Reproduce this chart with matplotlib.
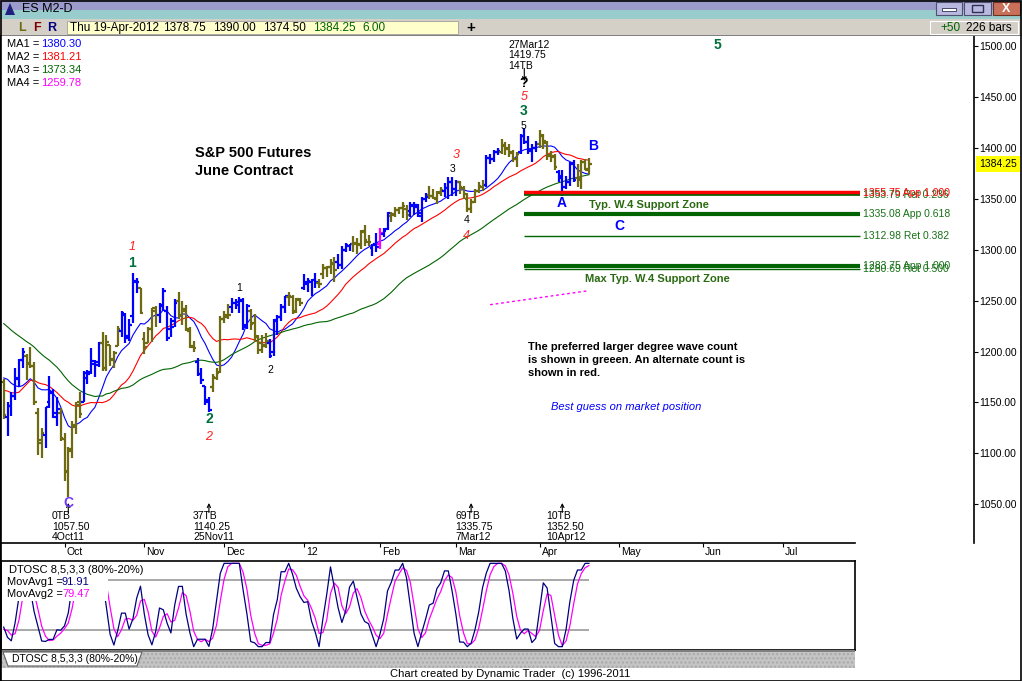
import numpy as np
import pandas as pd
import matplotlib
matplotlib.use('Agg')
import matplotlib.pyplot as plt
from matplotlib.patches import Rectangle, Polygon
from matplotlib.collections import LineCollection
from matplotlib.transforms import blended_transform_factory

plt.rcParams['font.family'] = ['Liberation Sans', 'DejaVu Sans']

W, H = 1022, 681

# ES M2 daily bars, 9 Sep 2011 .. 19 Apr 2012 (bar index 0..154)
opens = [1170, 1136, 1147, 1156, 1174, 1192, 1196, 1189, 1186, 1140,
         1110, 1118, 1150, 1160, 1140, 1140, 1114, 1082, 1102, 1126,
         1150, 1150, 1174, 1180, 1188, 1190, 1208, 1184, 1206, 1192,
         1205, 1220, 1236, 1215, 1235, 1268, 1262, 1212, 1208, 1222,
         1240, 1236, 1246, 1240, 1222, 1230, 1250, 1236, 1240, 1220,
         1205, 1190, 1178, 1166, 1152, 1165, 1174, 1180, 1232, 1236,
         1244, 1248, 1246, 1250, 1226, 1240, 1228, 1214, 1208, 1206,
         1208, 1200, 1230, 1234, 1244, 1254, 1254, 1240, 1251, 1262,
         1266, 1268, 1270, 1267, 1276, 1282, 1283, 1286, 1288, 1285,
         1300, 1304, 1306, 1306, 1305, 1318, 1308, 1302, 1306, 1306,
         1315, 1320, 1333, 1334, 1339, 1341, 1340, 1338, 1343, 1344,
         1333, 1350, 1354, 1353, 1350, 1357, 1358, 1361, 1366, 1360,
         1366, 1361, 1350, 1340, 1347, 1358, 1362, 1364, 1390, 1389,
         1396, 1396, 1402, 1400, 1395, 1389, 1396, 1412, 1406, 1397,
         1400, 1404, 1412, 1405, 1392, 1391, 1376, 1372, 1362, 1366,
         1384, 1370, 1370, 1386, 1378.75]
highs = [1173, 1150, 1160, 1184, 1193, 1203, 1198, 1204, 1190, 1145,
         1125, 1146, 1176, 1163, 1155, 1145, 1120, 1106, 1132, 1150,
         1160, 1181, 1182, 1203, 1192, 1209, 1219, 1216, 1206, 1201,
         1225, 1240, 1238, 1232, 1277, 1272, 1262, 1219, 1224, 1243,
         1245, 1248, 1262, 1245, 1233, 1252, 1258, 1250, 1246, 1224,
         1210, 1194, 1184, 1166, 1155, 1178, 1184, 1235, 1240, 1247,
         1253, 1252, 1254, 1253, 1247, 1242, 1237, 1216, 1216, 1218,
         1212, 1232, 1236, 1247, 1255, 1258, 1256, 1253, 1253, 1276,
         1272, 1271, 1277, 1271, 1286, 1284, 1291, 1293, 1296, 1304,
         1307, 1306, 1313, 1311, 1319, 1324, 1314, 1306, 1316, 1321,
         1321, 1337, 1337, 1342, 1342, 1347, 1344, 1347, 1347, 1345,
         1352, 1356, 1363, 1360, 1358, 1362, 1365, 1371, 1371, 1368,
         1367, 1363, 1356, 1350, 1360, 1366, 1368, 1393, 1394, 1398,
         1400, 1409, 1406, 1404, 1398, 1396, 1414, 1419.75, 1412, 1404,
         1407, 1418, 1414, 1407, 1397, 1394, 1378, 1378, 1372, 1386,
         1388, 1384, 1388, 1389, 1390]
lows = [1134, 1117, 1137, 1152, 1165, 1184, 1172, 1184, 1148, 1098,
        1095, 1105, 1145, 1135, 1127, 1112, 1073, 1057.5, 1095, 1119,
        1135, 1150, 1168, 1178, 1175, 1185, 1181, 1181, 1186, 1184,
        1205, 1214, 1208, 1210, 1228, 1257, 1237, 1198, 1208, 1209,
        1224, 1228, 1240, 1210, 1214, 1224, 1232, 1226, 1220, 1203,
        1200, 1176, 1168, 1148, 1140.25, 1160, 1172, 1179, 1228, 1232,
        1238, 1242, 1238, 1221, 1222, 1221, 1209, 1198, 1199, 1203,
        1194, 1196, 1216, 1230, 1238, 1245, 1237, 1238, 1245, 1260,
        1258, 1255, 1262, 1262, 1271, 1273, 1276, 1268, 1281, 1281,
        1298, 1299, 1298, 1296, 1301, 1304, 1304, 1294, 1298, 1301,
        1312, 1319, 1327, 1332, 1335, 1331, 1329, 1332, 1334, 1332,
        1327, 1347, 1350, 1350, 1345, 1353, 1352, 1350, 1353, 1353,
        1355, 1350, 1337, 1335.75, 1346, 1356, 1358, 1362, 1384, 1386,
        1393, 1394, 1393, 1391, 1386, 1381, 1394, 1404, 1394, 1386,
        1396, 1400, 1399, 1388, 1386, 1378, 1366, 1352.5, 1360, 1363,
        1366, 1362, 1360, 1378, 1374.5]
closes = [1138, 1147, 1156, 1173, 1192, 1200, 1188, 1186, 1150, 1113,
          1120, 1146, 1159, 1136, 1144, 1115, 1083, 1104, 1128, 1148,
          1139, 1179, 1178, 1191, 1187, 1208, 1184, 1209, 1193, 1199,
          1222, 1238, 1213, 1226, 1269, 1268, 1238, 1204, 1222, 1243,
          1236, 1245, 1259, 1213, 1224, 1248, 1236, 1242, 1222, 1204,
          1203, 1178, 1172, 1150, 1143, 1175, 1179, 1232, 1234, 1236,
          1248, 1249, 1251, 1224, 1245, 1227, 1215, 1202, 1205, 1210,
          1196, 1231, 1234, 1244, 1255, 1255, 1239, 1252, 1248, 1268,
          1269, 1270, 1268, 1266, 1282, 1283, 1287, 1280, 1285, 1300,
          1305, 1306, 1307, 1306, 1317, 1310, 1308, 1305, 1303, 1316,
          1318, 1336, 1335, 1339, 1341, 1343, 1334, 1344, 1342, 1336,
          1350, 1352, 1353, 1351, 1356, 1359, 1361, 1366, 1360, 1366,
          1362, 1355, 1340, 1347, 1358, 1363, 1364, 1390, 1389, 1396,
          1397, 1403, 1399, 1396, 1389, 1394, 1412, 1406, 1398, 1400,
          1404, 1413, 1407, 1393, 1392, 1381, 1370, 1355, 1366, 1385,
          1368, 1368, 1386, 1378.25, 1384.25]
# trend state of each bar: b = up swing, o = down swing, m = marked bar
bar_state = ("obbbbbooooobbbbooooooobbbbbooooobbbbbooooobbbbbooooobbbb"
             "ooooobbbbbooooobbbbbbooooobbbbooooobbbbooooobbmbbooooobbbbb"
             "oooobbbboooooooobbbbooooobbbbboooooobbbbbboooo")
bar_state = ("o" + "b" * 5 + "o" * 5 + "b" * 4 + "o" * 6 + "b" * 5 + "o" * 5 + "b" * 5
             + "o" * 5 + "b" * 5 + "o" * 5 + "b" * 4 + "o" * 5 + "b" * 5 + "o" * 5
             + "b" * 5 + "o" * 4 + "b" * 4 + "o" * 5 + "b" * 4 + "o" * 5 + "bb" + "m"
             + "bb" + "o" * 5 + "b" * 5 + "o" * 4 + "b" * 4 + "o" * 7 + "b" * 4
             + "o" * 5 + "b" * 5 + "o" * 5 + "b" * 5 + "o" * 4)

# warm-up closes before the first visible bar (Jun 30 .. Sep 8 2011), for the averages
pre_close = [1305, 1324, 1322, 1323, 1337, 1328, 1304, 1298, 1302, 1293,
             1300, 1289, 1311, 1310, 1328, 1329, 1321, 1316, 1289, 1285,
             1276, 1271, 1238, 1244, 1184, 1183, 1104, 1157, 1105, 1157,
             1163, 1189, 1177, 1178, 1125, 1108, 1108, 1146, 1162, 1143,
             1161, 1194, 1197, 1203, 1188, 1158, 1149, 1183, 1170]

ma_periods = [10, 20, 50]
ma4_bars = [128, 154]
ma4_vals = [1246, 1259.78]

# projection levels drawn from the 27 Mar high
fib_vals = [1355.75, 1353.79, 1335.08, 1312.98, 1283.75, 1280.69]
fib_names = ['App 1.000', 'Ret 0.236', 'App 0.618', 'Ret 0.382', 'App 1.000', 'Ret 0.500']
fib_start = 137

month_bars = [16, 37, 58, 79, 99, 119, 141, 162, 184, 205]
month_names = ['Oct', 'Nov', 'Dec', '12', 'Feb', 'Mar', 'Apr', 'May', 'Jun', 'Jul']
price_ticks = [1050, 1100, 1150, 1200, 1250, 1300, 1350, 1400, 1450, 1500]

BLUE, OLIVE, MAG = '#0000ff', '#6e6a12', '#ff00ff'
GREEN = '#006400'
WGREEN = '#00703c'

fig = plt.figure(figsize=(W / 100, H / 100), dpi=100)
fig.patch.set_facecolor('white')


def frect(x0, y0, x1, y1):
    return [x0 / W, 1 - y1 / H, (x1 - x0) / W, (y1 - y0) / H]


def ptext(x, y, s, **kw):
    kw.setdefault('va', 'center')
    kw.setdefault('fontsize', 8)
    return fig.text(x / W, 1 - y / H, s, **kw)


def pbox(x0, y0, x1, y1, **kw):
    r = Rectangle((x0 / W, 1 - y1 / H), (x1 - x0) / W, (y1 - y0) / H,
                  transform=fig.transFigure, **kw)
    fig.add_artist(r)
    return r


# bar spacing in pixels and pixel position of bar 0
BAR_PX, X0 = 3.8, 3.7
PT_PX, Y1500 = 1.0185, 46

n = len(closes)
idx = np.arange(n)

# ---------------- price panel ----------------
ax = fig.add_axes(frect(1, 36, 974, 543))
ax.set_xlim((1 - X0) / BAR_PX, (974 - X0) / BAR_PX)
ax.set_ylim(1500 - (543 - Y1500) / PT_PX, 1500 + (Y1500 - 36) / PT_PX)
for s in ['left', 'top', 'bottom']:
    ax.spines[s].set_visible(False)
ax.spines['right'].set_linewidth(1.2)
ax.set_xticks([])
ax.yaxis.tick_right()
ax.set_yticks(price_ticks)
ax.set_yticklabels(['%.2f' % t for t in price_ticks])
ax.tick_params(axis='y', direction='out', length=3, width=0.8, pad=1, labelsize=7.5)

allc = pd.Series(pre_close + closes, dtype=float)
npre = len(pre_close)
ma_colors = [BLUE, '#ff0000', GREEN]
for per, col in zip(ma_periods, ma_colors):
    ma = allc.rolling(per).mean().to_numpy()[npre:]
    ax.plot(idx, ma, color=col, lw=0.8, zorder=2)
ax.plot(ma4_bars, ma4_vals, color=MAG, lw=1.0, ls=(0, (2, 2)), zorder=2)

state_col = {'b': BLUE, 'o': OLIVE, 'm': MAG}
segs, cols = [], []
for i in range(n):
    c = state_col[bar_state[i]]
    segs += [[(i, lows[i]), (i, highs[i])],
             [(i - 0.7, opens[i]), (i, opens[i])],
             [(i, closes[i]), (i + 0.7, closes[i])]]
    cols += [c, c, c]
ax.add_collection(LineCollection(segs, colors=cols, linewidths=1.6,
                                 capstyle='butt', zorder=3))

fib_end = (860 - X0) / BAR_PX
fib_colors = ['#ff0000', GREEN, GREEN, GREEN, GREEN, GREEN]
fib_widths = [3.2, 1.2, 3.0, 1.0, 3.0, 1.0]
for v, col, lw in zip(fib_vals, fib_colors, fib_widths):
    ax.hlines(v, fib_start, fib_end, color=col, lw=lw, zorder=4)
lab_x = (863 - X0) / BAR_PX
for k in [1, 0, 2, 3, 5, 4]:
    tcol = '#ff0000' if fib_colors[k] == '#ff0000' else '#187018'
    ax.text(lab_x, fib_vals[k], '%.2f %s' % (fib_vals[k], fib_names[k]),
            color=tcol, fontsize=7.5, va='center', ha='left', clip_on=False)

# last price box on the scale
bt = blended_transform_factory(ax.transAxes, ax.transData)
ax.text(1.005, closes[-1], '%.2f' % closes[-1], transform=bt, fontsize=7.5,
        va='center', ha='left', bbox=dict(fc='#ffff00', ec='none', pad=2.2), clip_on=False)

# wave labels (bar index, price)
def wave(i, p, s, col, style):
    kw = dict(ha='center', va='center', color=col, zorder=6)
    if style == 'g':
        kw.update(fontsize=10, fontweight='bold')
    elif style == 'r':
        kw.update(fontsize=9, fontstyle='italic')
    elif style == 'k':
        kw.update(fontsize=7.5)
    else:
        kw.update(fontsize=10, fontweight='bold')
    ax.text(i, p, s, **kw)


wave(33.8, 1302.7, '1', '#ff2020', 'r')
wave(33.8, 1286.9, '1', WGREEN, 'g')
wave(54.0, 1133.8, '2', WGREEN, 'g')
wave(54.0, 1116.1, '2', '#ff2020', 'r')
wave(61.9, 1262.4, '1', 'black', 'k')
wave(70.1, 1181.9, '2', 'black', 'k')
wave(119.0, 1393.0, '3', '#ff2020', 'r')
wave(118.2, 1379.2, '3', 'black', 'k')
wave(121.9, 1329.2, '4', 'black', 'k')
wave(121.9, 1313.5, '4', '#ff2020', 'r')
wave(136.9, 1421.5, '5', 'black', 'k')
wave(136.9, 1436.2, '3', WGREEN, 'g')
wave(136.9, 1449.9, '5', '#ff2020', 'r')
wave(136.9, 1464.0, '?', 'black', 'b')
wave(146.9, 1345.9, 'A', BLUE, 'b')
wave(155.1, 1401.8, 'B', BLUE, 'b')
wave(162.0, 1323.3, 'C', BLUE, 'b')
wave(187.7, 1501.0, '5', WGREEN, 'g')
wave(16.9, 1051.3, 'C', '#7038ff', 'b')

# turning point arrows
for i in [17, 54, 123, 147]:
    ax.annotate('', xy=(i, 1051.3), xytext=(i, 1042.0),
                arrowprops=dict(arrowstyle='->', lw=0.8, color='black',
                                shrinkA=0, shrinkB=0, mutation_scale=6),
                annotation_clip=False)
ax.annotate('', xy=(137, 1465.5), xytext=(137, 1478.0),
            arrowprops=dict(arrowstyle='->', lw=0.8, color='black',
                            shrinkA=0, shrinkB=0, mutation_scale=6))

# ---------------- time axis ----------------
xr = ((1 - X0) / BAR_PX, (855 - X0) / BAR_PX)
tax = fig.add_axes(frect(1, 543, 855, 560))
tax.set_xlim(*xr)
tax.set_ylim(0, 1)
for s in ['left', 'right', 'bottom']:
    tax.spines[s].set_visible(False)
tax.spines['top'].set_linewidth(1.2)
tax.set_yticks([])
tax.xaxis.tick_top()
tax.set_xticks(month_bars)
tax.set_xticklabels([])
tax.tick_params(axis='x', direction='in', length=3, width=0.8)
for b, m in zip(month_bars, month_names):
    tax.text(b + 0.6, 0.45, m, fontsize=7.5, ha='left', va='center')

# ---------------- oscillator ----------------
delta = allc.diff()
gain = delta.clip(lower=0).rolling(8).mean()
loss = (-delta.clip(upper=0)).rolling(8).mean()
rsi = 100 * gain / (gain + loss)
lo5, hi5 = rsi.rolling(5).min(), rsi.rolling(5).max()
stoch = 100 * (rsi - lo5) / (hi5 - lo5).replace(0, np.nan)
fast = stoch.rolling(3).mean()
slow = fast.rolling(3).mean()
fast = fast.to_numpy()[npre:]
slow = slow.to_numpy()[npre:]

oax = fig.add_axes(frect(1, 561, 855, 650))
oax.set_xlim(*xr)
oax.set_ylim(-4, 102.8)
oax.set_xticks([])
oax.set_yticks([])
for s in oax.spines.values():
    s.set_linewidth(1.2)
oax.hlines([80, 20], 0, n - 1, color='#9a9a9a', lw=1.2)
oax.plot(idx, slow, color=MAG, lw=0.9)
oax.plot(idx, fast, color='#000080', lw=0.9)

pbox(2, 562, 108, 601, fc='white', ec='none', zorder=5)
pbox(2, 562, 144, 577, fc='white', ec='none', zorder=5)
ptext(9, 570, 'DTOSC 8,5,3,3 (80%-20%)', zorder=6)
ptext(7, 582, 'MovAvg1 =', zorder=6)
ptext(62, 582, '91.91', color='#000080', zorder=6)
ptext(7, 594, 'MovAvg2 =', zorder=6)
ptext(62, 594, '79.47', color=MAG, zorder=6)

# tab strip
pbox(0, 650, 855, 652, fc='#808080', ec='none')
pbox(0, 652, 855, 668, fc='#c4c4c4', ec='#a8a8a8', lw=0, hatch='....')
fig.add_artist(Polygon([(3 / W, 1 - 652 / H), (142 / W, 1 - 652 / H),
                        (137 / W, 1 - 666 / H), (8 / W, 1 - 666 / H)],
                       closed=True, transform=fig.transFigure, fc='white',
                       ec='#606060', lw=0.8))
ptext(12, 659, 'DTOSC 8,5,3,3 (80%-20%)', fontsize=7.5)
ptext(510, 674, 'Chart created by Dynamic Trader  (c) 1996-2011', ha='center', fontsize=8)

# ---------------- header ----------------
pbox(0, 0, W, 10, fc='#9c9ccc', ec='none')
pbox(0, 10, W, 19, fc='#99cccc', ec='none')
pbox(0, 19, W, 35, fc='#d4d0c8', ec='none')
pbox(0, 35, W, 36, fc='#808080', ec='none')
fig.add_artist(Polygon([(5 / W, 1 - 15 / H), (10 / W, 1 - 3 / H), (15 / W, 1 - 15 / H)],
                       closed=True, transform=fig.transFigure, fc='#202080', ec='none'))
ptext(22, 9, 'ES M2-D', fontsize=9)
ptext(936 + 13, 8, '', fontsize=8)
pbox(936, 2, 962, 15, fc='#b8b8e0', ec='#505070', lw=0.8)
pbox(964, 2, 991, 15, fc='#b8b8e0', ec='#505070', lw=0.8)
pbox(993, 2, 1020, 15, fc='#c8705a', ec='#703020', lw=0.8)
pbox(942, 8, 956, 11, fc='white', ec='#303050', lw=0.6)
pbox(972, 5, 983, 12, fc='none', ec='#303050', lw=1.0)
ptext(1006.5, 8.5, 'X', ha='center', fontsize=9, fontweight='bold', color='white')
ptext(18, 28, 'L', fontsize=9, fontweight='bold', color=OLIVE)
ptext(33, 28, 'F', fontsize=9, fontweight='bold', color='#800000')
ptext(47, 28, 'R', fontsize=9, fontweight='bold', color='#000080')
pbox(67, 21, 458, 34, fc='#ffffcc', ec='#a0a0a0', lw=0.6)
ptext(70, 28, 'Thu 19-Apr-2012', fontsize=8.5)
ptext(163, 28, '%.2f' % opens[-1], fontsize=8.5)
ptext(213, 28, '%.2f' % highs[-1], fontsize=8.5)
ptext(263, 28, '%.2f' % lows[-1], fontsize=8.5)
ptext(313, 28, '%.2f' % closes[-1], fontsize=8.5, color='#006400')
ptext(362, 28, '%.2f' % (closes[-1] - closes[-2]), fontsize=8.5, color='#006400')
ptext(471, 28, '+', fontsize=11, fontweight='bold', ha='center')
pbox(930, 21, 1018, 34, fc='#d4d0c8', ec='#ffffff', lw=0.8)
ptext(940, 28, '+50', fontsize=8.5, color='#006400')
ptext(966, 28, '226 bars', fontsize=8.5)

# moving average readout
ma_names = ['MA1 =', 'MA2 =', 'MA3 =', 'MA4 =']
ma_text = ['1380.30', '1381.21', '1373.34', '1259.78']
ma_tcol = [BLUE, '#ff0000', GREEN, MAG]
for k, (nm, vt, col) in enumerate(zip(ma_names, ma_text, ma_tcol)):
    y = 44 + 13 * k
    ptext(7, y, nm, fontsize=8)
    ptext(41, y, vt, fontsize=8, color=col)

# notes on the chart
ptext(195, 153, 'S&P 500 Futures', fontsize=10.5, fontweight='bold')
ptext(195, 171, 'June Contract', fontsize=10.5, fontweight='bold')
ptext(589, 205, 'Typ. W.4 Support Zone', fontsize=8, fontweight='bold', color='#2a6a10')
ptext(585, 279, 'Max Typ. W.4 Support Zone', fontsize=8, fontweight='bold', color='#2a6a10')
ptext(528, 347, 'The preferred larger degree wave count', fontsize=8, fontweight='bold')
ptext(528, 360, 'is shown in greeen. An alternate count is', fontsize=8, fontweight='bold')
ptext(528, 373, 'shown in red.', fontsize=8, fontweight='bold')
ptext(551, 407, 'Best guess on market position', fontsize=8, fontstyle='italic', color=BLUE)
for x0, lines in [(508, ['27Mar12', '1419.75', '14TB'])]:
    for k, s in enumerate(lines):
        ptext(x0, 45 + 10.5 * k, s, fontsize=7.5)
for x0, lines in [(52, ['0TB', '1057.50', '4Oct11']),
                  (193, ['37TB', '1140.25', '25Nov11']),
                  (455, ['69TB', '1335.75', '7Mar12']),
                  (546, ['10TB', '1352.50', '10Apr12'])]:
    for k, s in enumerate(lines):
        ptext(x0, 516 + 10.5 * k, s, fontsize=7.5)

# window frame
pbox(0.5, 0.5, W - 1.5, H - 0.5, fill=False, ec='black', lw=1.2)
fig.add_artist(plt.Line2D([0, 0], [0, 1 - 36 / H], transform=fig.transFigure, color='black', lw=1.5))

fig.savefig('out.png', dpi=100)
